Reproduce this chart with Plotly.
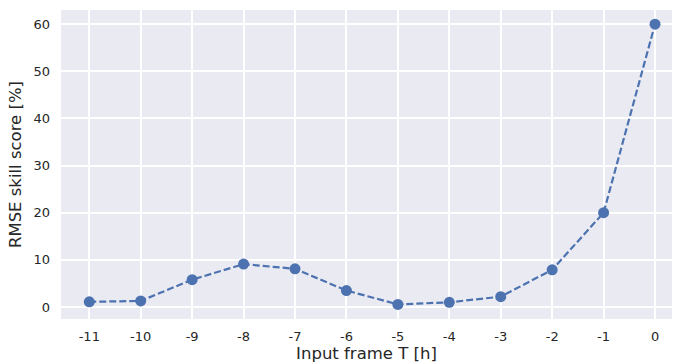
import plotly.graph_objects as go

frames = [-11, -10, -9, -8, -7, -6, -5, -4, -3, -2, -1, 0]
skill = [1.1, 1.3, 5.8, 9.1, 8.1, 3.5, 0.55, 1.0, 2.2, 7.9, 20.0, 60.0]
x_ticklabels = [str(v) for v in frames]
y_ticks = [0, 10, 20, 30, 40, 50, 60]

fig = go.Figure()
fig.add_trace(go.Scatter(
    x=frames, y=skill, mode="lines+markers",
    line=dict(color="#4C72B0", width=2.2, dash="7px,3px"),
    marker=dict(color="#4C72B0", size=11),
    showlegend=False,
))

font = "DejaVu Sans, sans-serif"
fig.update_layout(
    width=673, height=364,
    margin=dict(l=61, r=1, t=10, b=45),
    paper_bgcolor="white", plot_bgcolor="#EAEAF2",
    font=dict(family=font, color="#262626", size=13),
)
fig.update_xaxes(
    range=[-11.55, 0.33], tickvals=frames, ticktext=x_ticklabels,
    showgrid=True, gridcolor="white", gridwidth=1.5, zeroline=False,
    ticks="", ticklabelstandoff=8,
    title=dict(text="Input frame T [h]", font=dict(size=16.5), standoff=4),
    tickfont=dict(size=13),
)
fig.update_yaxes(
    range=[-2.54, 63.0], tickvals=y_ticks,
    showgrid=True, gridcolor="white", gridwidth=1.5, zeroline=False,
    ticks="", ticklabelstandoff=10,
    title=dict(text="RMSE skill score [%]", font=dict(size=16.5), standoff=7),
    tickfont=dict(size=13),
)
fig.write_html("out.html")
